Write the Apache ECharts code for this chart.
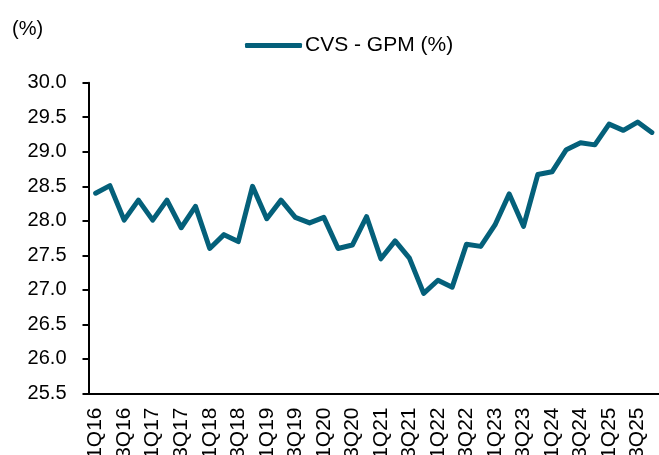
<!DOCTYPE html>
<html>
<head>
<meta charset="utf-8">
<script src="https://cdn.jsdelivr.net/npm/echarts@6/dist/echarts.min.js"></script>
<style>
    html, body { margin: 0; padding: 0; background: #fff; }
    #chart { width: 659px; height: 455px; }
</style>
</head>
<body>
<div id="chart"></div>
<script>
// quarters 1Q16 .. 4Q25
var quarters = [];
for (var y = 16; y <= 25; y++) {
    for (var q = 1; q <= 4; q++) {
        quarters.push(q + 'Q' + y);
    }
}
var seriesName = 'CVS - GPM (%)';
var gpm = [
    28.40, 28.51, 28.01, 28.30, 28.01, 28.30, 27.90, 28.21, 27.60, 27.80,
    27.70, 28.50, 28.03, 28.30, 28.05, 27.97, 28.05, 27.60, 27.65, 28.06,
    27.45, 27.71, 27.46, 26.95, 27.14, 27.04, 27.66, 27.63, 27.94, 28.39,
    27.92, 28.67, 28.71, 29.03, 29.13, 29.10, 29.40, 29.31, 29.43, 29.28
];
var yTicks = [25.5, 26.0, 26.5, 27.0, 27.5, 28.0, 28.5, 29.0, 29.5, 30.0];

var lineColor = '#04607A';
var font = 'Liberation Sans, Arial, sans-serif';

var chart = echarts.init(document.getElementById('chart'));
var option = {
    animation: false,
    title: {
        text: '(%)',
        left: 7,
        top: 14,
        textStyle: { fontFamily: font, fontSize: 20, fontWeight: 'normal', color: '#000' }
    },
    legend: {
        data: [seriesName],
        left: 240,
        top: 30,
        icon: 'roundRect',
        itemWidth: 57,
        itemHeight: 5,
        itemGap: 0,
        textStyle: { fontFamily: font, fontSize: 21, color: '#000', padding: [0, 0, 0, -2] }
    },
    grid: {
        left: 88.5,
        right: 0,
        top: 82.7,
        bottom: 61.5,
        containLabel: false,
        outerBoundsMode: 'none'
    },
    xAxis: [
        {
            type: 'category',
            data: quarters,
            boundaryGap: true,
            axisLine: { lineStyle: { color: '#000', width: 2 } },
            axisTick: { interval: 0, length: 5, lineStyle: { color: '#000', width: 2 } },
            axisLabel: {
                interval: 1,
                rotate: 90,
                margin: 14,
                fontFamily: font,
                fontSize: 21,
                color: '#000'
            },
            splitLine: { show: false }
        },
        {
            // second axis only for the mid-category ticks
            type: 'category',
            data: quarters,
            position: 'bottom',
            boundaryGap: true,
            axisLine: { show: false },
            axisTick: { interval: 0, alignWithLabel: true, length: 5, lineStyle: { color: '#000', width: 2 } },
            axisLabel: { show: false },
            splitLine: { show: false }
        }
    ],
    yAxis: {
        type: 'value',
        min: yTicks[0],
        max: yTicks[yTicks.length - 1],
        interval: 0.5,
        axisLine: { show: true, lineStyle: { color: '#000', width: 2 } },
        axisTick: { show: true, length: 6, lineStyle: { color: '#000', width: 2 } },
        axisLabel: {
            margin: 22,
            fontFamily: font,
            fontSize: 20,
            color: '#000',
            formatter: function (v) { return v.toFixed(1); }
        },
        splitLine: { show: false }
    },
    series: [
        {
            name: seriesName,
            type: 'line',
            data: gpm,
            showSymbol: false,
            symbol: 'none',
            color: lineColor,
            lineStyle: { color: lineColor, width: 5, cap: 'round', join: 'round' }
        }
    ]
};
chart.setOption(option);
</script>
</body>
</html>
